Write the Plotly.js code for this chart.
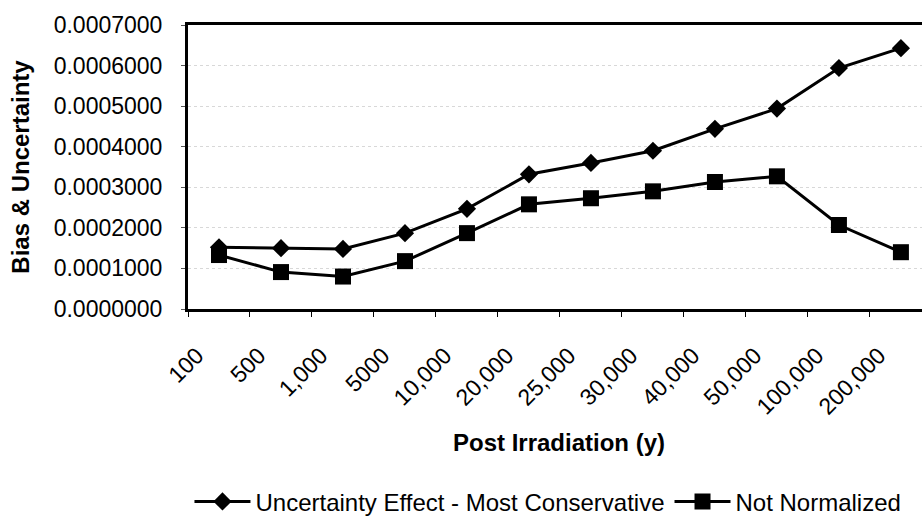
<!DOCTYPE html>
<html>
<head>
<meta charset="utf-8">
<script src="https://cdn.plot.ly/plotly-3.0.1.min.js"></script>
<style>html,body{margin:0;padding:0;background:#fff;}#chart{width:922px;height:525px;}</style>
</head>
<body>
<div id="chart"></div>
<script>
const categories = ["100","500","1,000","5000","10,000","20,000","25,000","30,000","40,000","50,000","100,000","200,000"];
const uncertaintyMostConservative = [0.000152,0.000150,0.000148,0.000187,0.000247,0.000332,0.000360,0.000390,0.000444,0.000494,0.000594,0.000643];
const notNormalized = [0.000133,0.000091,0.000080,0.000118,0.000187,0.000258,0.000273,0.000290,0.000313,0.000327,0.000207,0.000140];
const seriesNames = ["Uncertainty Effect - Most Conservative","Not Normalized"];
const xTitle = "Post Irradiation (y)";
const yTitle = "Bias & Uncertainty";

const FONT = "Liberation Sans, Arial, sans-serif";

const traces = [
  {x: categories, y: uncertaintyMostConservative, name: seriesNames[0], type: "scatter", mode: "lines+markers",
   line: {color: "#000", width: 3}, marker: {symbol: "diamond", size: 14, color: "#000"}},
  {x: categories, y: notNormalized, name: seriesNames[1], type: "scatter", mode: "lines+markers",
   line: {color: "#000", width: 3}, marker: {symbol: "square", size: 16, color: "#000"}}
];

const layout = {
  width: 922, height: 525,
  margin: {l: 188, r: 0, t: 25, b: 213},
  paper_bgcolor: "#fff", plot_bgcolor: "#fff",
  font: {family: FONT, color: "#000"},
  showlegend: true,
  legend: {orientation: "h", x: 0.002, xanchor: "left", y: -0.679, yanchor: "middle",
           font: {family: FONT, size: 24, color: "#000"}, itemwidth: 56, traceorder: "normal",
           bgcolor: "rgba(0,0,0,0)", tracegroupgap: 0},
  xaxis: {
    type: "category", range: [-0.5, 11.34], showline: true, linecolor: "#000", linewidth: 3, mirror: true,
    ticks: "outside", tickson: "boundaries", ticklen: 5, tickcolor: "#000", tickwidth: 1,
    tickangle: -45, tickfont: {family: FONT, size: 23, color: "#000"},
    ticklabelstandoff: 21, ticklabelshift: -22,
    showgrid: false, zeroline: false, automargin: false
  },
  yaxis: {
    range: [0, 0.0007], dtick: 0.0001, tickformat: ".7f",
    showline: true, linecolor: "#000", linewidth: 3, mirror: false,
    ticks: "outside", ticklen: 4, tickcolor: "#555", tickwidth: 1,
    tickfont: {family: FONT, size: 23, color: "#000"}, ticklabelstandoff: 14,
    showgrid: true, gridcolor: "#d8d8d8", gridwidth: 1, griddash: "dot",
    zeroline: false, automargin: false,
    title: {text: "<b>" + yTitle + "</b>", font: {family: FONT, size: 24, color: "#000"}, standoff: 18}
  },
  annotations: [
    {text: "<b>" + xTitle + "</b>", xref: "paper", yref: "paper", x: 0.505, y: -0.47,
     xanchor: "center", yanchor: "middle", showarrow: false, font: {family: FONT, size: 24, color: "#000"}}
  ]
};

Plotly.newPlot("chart", traces, layout, {displayModeBar: false, staticPlot: true});
</script>
</body>
</html>
